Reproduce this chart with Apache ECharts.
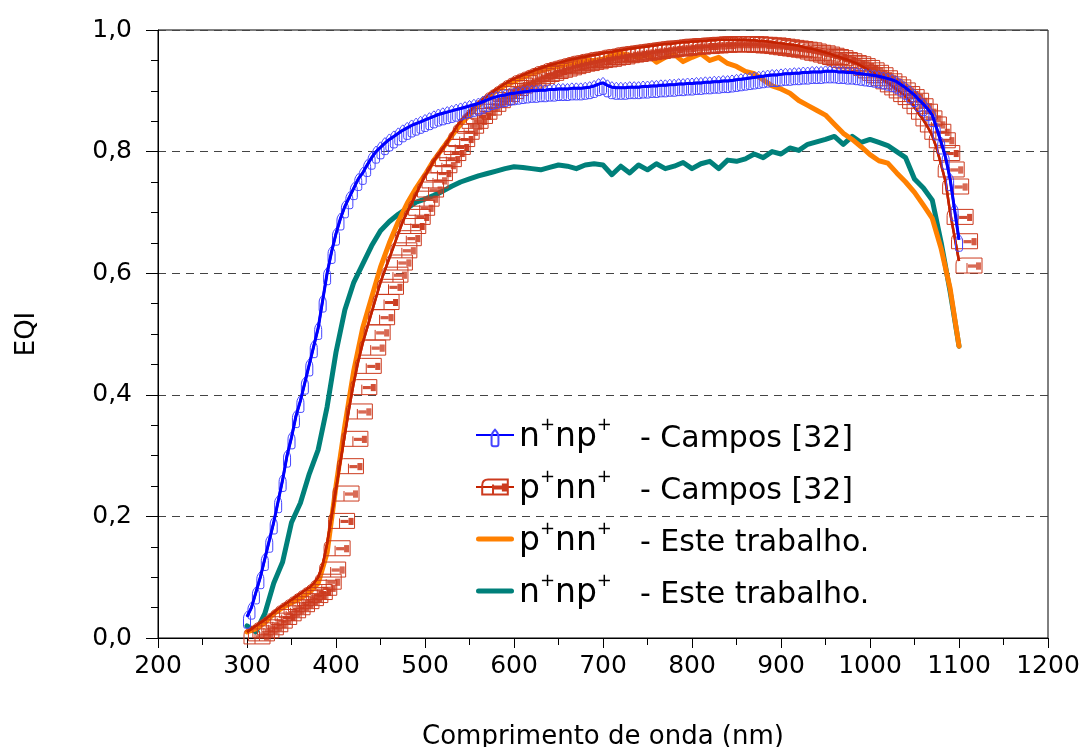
<!DOCTYPE html>
<html><head><meta charset="utf-8">
<script src="https://cdn.jsdelivr.net/npm/echarts@6/dist/echarts.min.js"></script>
<style>html,body{margin:0;padding:0;background:#fff}#c{width:1088px;height:747px}</style>
</head><body><div id="c"></div>
<script>
// Wavelengths (nm) of the Campos [32] measurements
const camposNm = [300,305,310,315,320,325,330,335,340,345,350,355,360,365,370,375,380,385,390,395,
400,405,410,415,420,425,430,435,440,445,450,455,460,465,470,475,480,485,490,495,
500,505,510,515,520,525,530,535,540,545,550,555,560,565,570,575,580,585,590,595,
600,605,610,615,620,625,630,635,640,645,650,655,660,665,670,675,680,685,690,695,
700,705,710,715,720,725,730,735,740,745,750,755,760,765,770,775,780,785,790,795,
800,805,810,815,820,825,830,835,840,845,850,855,860,865,870,875,880,885,890,895,
900,905,910,915,920,925,930,935,940,945,950,955,960,965,970,975,980,985,990,995,
1000,1005,1010,1015,1020,1025,1030,1035,1040,1045,1050,1055,1060,1065,1070,1075,1080,1085,1090,1095,1100];
// n+np+ - Campos [32]
const camposNnp = [.035,.05,.075,.10,.13,.16,.19,.225,.26,.30,.33,.365,.39,.42,.45,.48,.51,.555,.60,.635,
.665,.69,.71,.725,.74,.755,.765,.778,.79,.80,.807,.814,.82,.825,.83,.835,.839,.843,.846,.849,
.852,.855,.858,.861,.863,.865,.867,.869,.871,.873,.875,.877,.879,.882,.885,.888,.89,.892,.893,.895,
.896,.897,.898,.899,.90,.90,.901,.901,.902,.902,.903,.903,.903,.904,.904,.904,.905,.906,.908,.911,
.913,.909,.906,.905,.905,.905,.906,.906,.906,.907,.907,.908,.908,.909,.909,.91,.91,.911,.911,.912,
.912,.913,.913,.914,.914,.915,.915,.916,.916,.917,.918,.919,.92,.921,.922,.923,.924,.925,.926,.926,
.927,.928,.928,.929,.929,.93,.93,.931,.931,.931,.932,.932,.932,.931,.931,.93,.93,.929,.928,.927,
.926,.925,.924,.922,.92,.918,.915,.91,.905,.899,.893,.885,.878,.87,.86,.838,.815,.79,.755,.705,.655];
// p+nn+ - Campos [32]
const camposPnn = [.010,.015,.020,.025,.030,.036,.042,.048,.053,.058,.063,.068,.073,.078,.083,.090,.100,.120,.155,.200,
.245,.290,.335,.380,.420,.455,.485,.510,.535,.560,.585,.605,.625,.645,.665,.685,.700,.715,.730,.745,
.760,.772,.785,.795,.805,.815,.828,.840,.850,.858,.866,.873,.880,.886,.892,.897,.902,.907,.912,.916,
.920,.923,.926,.929,.932,.935,.937,.940,.942,.944,.946,.948,.950,.952,.953,.955,.956,.958,.959,.960,
.962,.963,.964,.966,.967,.968,.969,.970,.971,.972,.973,.974,.975,.976,.977,.977,.978,.979,.980,.980,
.981,.981,.982,.982,.983,.983,.984,.984,.984,.984,.984,.984,.984,.983,.983,.982,.982,.981,.980,.979,
.978,.977,.976,.975,.974,.972,.970,.969,.967,.965,.963,.961,.958,.956,.953,.951,.948,.945,.941,.937,
.933,.928,.923,.918,.913,.908,.902,.897,.891,.882,.873,.862,.852,.840,.826,.805,.778,.750,.700,.660,.620];
// Wavelengths (nm) of "Este trabalho"
const esteNm = [300,310,320,330,340,350,360,370,380,390,400,410,420,430,440,450,460,470,480,490,
500,510,520,530,540,550,560,570,580,590,600,610,620,630,640,650,660,670,680,690,
700,710,720,730,740,750,760,770,780,790,800,810,820,830,840,850,860,870,880,890,
900,910,920,930,940,950,960,970,980,990,1000,1010,1020,1030,1040,1050,1060,1070,1080,1090,1100];
// p+nn+ - Este trabalho
const estePnn = [.010,.015,.025,.040,.050,.058,.065,.075,.090,.140,.250,.350,.440,.510,.560,.610,.650,.685,.715,.740,
.762,.786,.806,.826,.845,.860,.875,.888,.900,.909,.915,.922,.928,.933,.937,.940,.944,.947,.950,.950,
.952,.958,.962,.958,.955,.960,.947,.955,.960,.948,.955,.961,.950,.955,.945,.940,.932,.928,.918,.908,
.903,.896,.884,.876,.868,.860,.845,.830,.820,.808,.795,.785,.781,.765,.750,.733,.712,.690,.640,.575,.480];
// n+np+ - Este trabalho
const esteNnp = [.020,.010,.040,.090,.125,.190,.222,.270,.310,.380,.470,.540,.585,.615,.645,.670,.685,.697,.707,.717,
.722,.728,.735,.743,.750,.755,.760,.764,.768,.772,.775,.774,.772,.770,.774,.778,.776,.772,.778,.780,
.778,.762,.776,.765,.778,.770,.780,.772,.776,.782,.772,.780,.784,.772,.786,.784,.788,.796,.790,.800,
.796,.806,.802,.812,.816,.820,.825,.812,.825,.815,.820,.815,.810,.800,.790,.755,.740,.720,.650,.570,.480];

const legendLabels = {
  'n+np+ Campos': ['n','np','- Campos [32]'],
  'p+nn+ Campos': ['p','nn','- Campos [32]'],
  'p+nn+ Este': ['p','nn','- Este trabalho.'],
  'n+np+ Este': ['n','np','- Este trabalho.']
};

const zip = (xs, ys) => xs.map((x, i) => [x, ys[i]]);
// marker glyphs drawn in a 26x26 box (corner points keep the box square)
const bluePath = 'path://M0,0 L0,0 M26,26 L26,26 M13,7.5 C15,9.5 16.5,11.5 16.5,14.5 L16.5,22.5 Q16.5,24.5 14.5,24.5 L11.5,24.5 Q9.5,24.5 9.5,22.5 L9.5,14.5 C9.5,11.5 11,9.5 13,7.5 Z';
const boxPath = 'path://M0,0 L0,0 M26,26 L26,26 M0,20.5 L0,11.5 Q0,5.5 6,5.5 L26,5.5 L26,20.5 Z M11,10.5 L11,20.5' +
  ' M12,12.5 L20,12.5 M12,13.5 L20,13.5 M12,14.5 L20,14.5' +
  ' M20,10.5 L25,10.5 M20,11.5 L25,11.5 M20,12.5 L25,12.5 M20,13.5 L25,13.5 M20,14.5 L25,14.5 M20,15.5 L25,15.5 M20,16.5 L25,16.5';
const barIcon = 'path://M2.5,0 L35.5,0 A2.5,2.5 0 0 1 35.5,5 L2.5,5 A2.5,2.5 0 0 1 2.5,0 Z';
const FONT = 'DejaVu Sans, Verdana, sans-serif';

const chart = echarts.init(document.getElementById('c'));
chart.setOption({
  animation: false,
  backgroundColor: '#fff',
  textStyle: { fontFamily: FONT, color: '#000' },
  grid: { left: 158, right: 40, top: 30, bottom: 109, outerBoundsMode: 'none', containLabel: false,
    show: true, borderColor: '#000', borderWidth: 1, backgroundColor: 'transparent' },
  legend: {
    orient: 'vertical', left: 470, top: 411, itemGap: 14, itemWidth: 38, itemHeight: 32,
    data: [
      { name: 'n+np+ Campos' },
      { name: 'p+nn+ Campos' },
      { name: 'p+nn+ Este', icon: barIcon },
      { name: 'n+np+ Este', icon: barIcon }
    ],
    formatter: function (name) {
      const l = legendLabels[name];
      return '{a|' + l[0] + '}{s|+}{a|' + l[1] + '}{s|+}{b|' + l[2] + '}';
    },
    textStyle: {
      fontFamily: FONT, color: '#000',
      rich: {
        a: { fontSize: 33, lineHeight: 38, fontFamily: FONT, color: '#000', verticalAlign: 'bottom' },
        s: { fontSize: 18, lineHeight: 38, fontFamily: FONT, color: '#000', verticalAlign: 'top' },
        b: { fontSize: 30, lineHeight: 38, fontFamily: FONT, color: '#000', padding: [0, 0, 0, 28], verticalAlign: 'bottom' }
      }
    }
  },
  xAxis: {
    type: 'value', min: 200, max: 1200, interval: 100,
    name: 'Comprimento de onda (nm)', nameLocation: 'middle', nameGap: 86,
    nameTextStyle: { fontSize: 26, fontFamily: FONT, color: '#000' },
    axisLine: { show: true, lineStyle: { color: '#000', width: 1 } },
    axisTick: { show: true, inside: false, length: 10, lineStyle: { color: '#000' } },
    minorTick: { show: true, splitNumber: 2, length: 7, lineStyle: { color: '#000' } },
    axisLabel: { fontSize: 25, color: '#000', margin: 16, fontFamily: FONT, formatter: v => String(v) },
    splitLine: { show: false }
  },
  yAxis: {
    type: 'value', min: 0, max: 1, interval: 0.2,
    name: 'EQI', nameLocation: 'middle', nameGap: 118,
    nameTextStyle: { fontSize: 26, fontFamily: FONT, color: '#000' },
    axisLine: { show: true, lineStyle: { color: '#000', width: 1 } },
    axisTick: { show: true, inside: false, length: 12, lineStyle: { color: '#000' } },
    minorTick: { show: true, splitNumber: 4, length: 7, lineStyle: { color: '#000' } },
    axisLabel: { fontSize: 25, color: '#000', margin: 26, fontFamily: FONT,
      formatter: v => v.toFixed(1).replace('.', ',') },
    splitLine: { show: true, lineStyle: { color: '#444', type: [8, 6], width: 1 } }
  },
  series: [
    { name: 'n+np+ Este', type: 'line', data: zip(esteNm, esteNnp), symbol: 'none', z: 2,
      lineStyle: { color: '#00807A', width: 5, cap: 'round', join: 'round' }, itemStyle: { color: '#00807A' } },
    { name: 'p+nn+ Este', type: 'line', data: zip(esteNm, estePnn), symbol: 'none', z: 3,
      lineStyle: { color: '#FF8000', width: 5, cap: 'round', join: 'round' }, itemStyle: { color: '#FF8000' } },
    { name: 'p+nn+ Campos', type: 'line', data: zip(camposNm, camposPnn), z: 4,
      symbol: boxPath, symbolSize: 26, symbolOffset: [10, 4.5], showAllSymbol: true,
      lineStyle: { color: '#C42200', width: 2.5 },
      itemStyle: { color: 'rgba(255,255,255,0)', borderColor: '#CC3A1E', borderWidth: 1 } },
    { name: 'p+nn+ line', type: 'line', data: zip(camposNm, camposPnn), symbol: 'none', z: 5,
      lineStyle: { color: '#C42200', width: 2.5 } },
    { name: 'n+np+ Campos', type: 'line', data: zip(camposNm, camposNnp), z: 6,
      symbol: bluePath, symbolSize: 26, showAllSymbol: true,
      lineStyle: { color: '#0000FF', width: 2.5 },
      itemStyle: { color: 'rgba(255,255,255,0)', borderColor: '#4545FF', borderWidth: 1 } },
    { name: 'n+np+ line', type: 'line', data: zip(camposNm, camposNnp), symbol: 'none', z: 7,
      lineStyle: { color: '#0000FF', width: 3 } }
  ]
});
</script>
</body></html>
